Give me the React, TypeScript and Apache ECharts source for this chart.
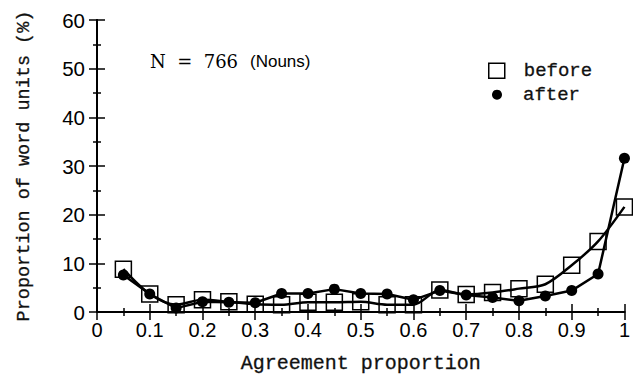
import React, { useEffect, useRef } from "react";
import * as echarts from "echarts";

// Agreement proportion bins (x) and percentage of word units in each bin
const agreementBins = [
  0.05, 0.1, 0.15, 0.2, 0.25, 0.3, 0.35, 0.4, 0.45, 0.5,
  0.55, 0.6, 0.65, 0.7, 0.75, 0.8, 0.85, 0.9, 0.95, 1.0,
];
const beforeValues = [
  8.8, 3.7, 1.5, 2.5, 2.1, 1.6, 1.5, 2.0, 2.0, 2.1,
  1.5, 1.5, 4.5, 3.6, 4.0, 4.8, 5.7, 9.6, 14.5, 21.6,
];
const afterValues = [
  7.6, 3.7, 0.8, 2.1, 2.0, 1.9, 3.8, 3.8, 4.7, 3.8,
  3.7, 2.5, 4.4, 3.5, 3.0, 2.3, 3.3, 4.4, 7.8, 31.6,
];

const MONO = "'Liberation Mono', monospace";
const SANS = "'Liberation Sans', Arial, sans-serif";
const SERIF = "'DejaVu Serif', serif";

// Slightly thickened typewriter-style text
const monoText = (size: number) => ({
  fontFamily: MONO,
  fontSize: size,
  color: "#111",
  textBorderColor: "#111",
  textBorderWidth: 0.3,
});

const frameAxis = {
  axisLine: { show: true, lineStyle: { color: "#000", width: 2 } },
  axisTick: { show: true, inside: true, length: 8, lineStyle: { color: "#000", width: 1.5 } },
  minorTick: { show: true, splitNumber: 2, length: 4, lineStyle: { color: "#000", width: 1.5 } },
  splitLine: { show: false },
};

export default function App() {
  const ref = useRef<HTMLDivElement>(null);

  useEffect(() => {
    if (!ref.current) return;
    const chart = echarts.init(ref.current, undefined, { renderer: "svg" });
    const beforeData = agreementBins.map((x, i) => [x, beforeValues[i]]);
    const afterData = agreementBins.map((x, i) => [x, afterValues[i]]);

    chart.setOption({
      animation: false,
      backgroundColor: "#fff",
      grid: { left: 97, right: 5, top: 20, bottom: 67, containLabel: false },
      xAxis: [
        {
          ...frameAxis,
          type: "value",
          position: "bottom",
          min: 0,
          max: 1,
          interval: 0.1,
          name: "Agreement proportion",
          nameLocation: "middle",
          nameGap: 41,
          nameTextStyle: monoText(20),
          axisLabel: { fontFamily: SANS, fontSize: 20, color: "#000", margin: 8 },
        },
        {
          ...frameAxis,
          type: "value",
          position: "top",
          min: 0,
          max: 1,
          interval: 0.1,
          axisLabel: { show: false },
        },
      ],
      yAxis: [
        {
          ...frameAxis,
          type: "value",
          position: "left",
          min: 0,
          max: 60,
          interval: 10,
          name: "Proportion of word units (%)",
          nameLocation: "middle",
          nameGap: 63,
          nameTextStyle: monoText(18.5),
          axisLabel: { fontFamily: SANS, fontSize: 20.5, color: "#000", margin: 12 },
        },
        {
          ...frameAxis,
          type: "value",
          position: "right",
          min: 0,
          max: 60,
          interval: 10,
          axisLabel: { show: false },
        },
      ],
      legend: [
        {
          left: 488,
          top: 61,
          padding: 0,
          orient: "vertical",
          itemWidth: 16,
          itemHeight: 15,
          data: [
            {
              name: "before",
              icon: "rect",
              itemStyle: { color: "#fff", borderColor: "#000", borderWidth: 1.5 },
            },
          ],
          textStyle: { ...monoText(19), padding: [0, 0, 0, 14] },
        },
        {
          left: 492,
          top: 85,
          padding: 0,
          orient: "vertical",
          itemWidth: 10,
          itemHeight: 10,
          data: [
            { name: "after", icon: "circle", itemStyle: { color: "#000", borderWidth: 0 } },
          ],
          textStyle: { ...monoText(19), padding: [0, 0, 0, 16] },
        },
      ],
      graphic: [
        {
          type: "text",
          left: 150,
          top: 52,
          style: { text: "N  =  766", font: `18px ${SERIF}`, fill: "#000" },
        },
        {
          type: "text",
          left: 250,
          top: 53,
          style: { text: "(Nouns)", font: `17px ${SANS}`, fill: "#000" },
        },
      ],
      series: [
        {
          name: "before",
          type: "line",
          data: beforeData,
          smooth: 0.3,
          clip: false,
          symbol: "rect",
          symbolSize: 16,
          lineStyle: { color: "#000", width: 2.5 },
          itemStyle: { color: "transparent", borderColor: "#000", borderWidth: 1.5 },
          z: 2,
        },
        {
          name: "after",
          type: "line",
          data: afterData,
          clip: false,
          symbol: "circle",
          symbolSize: 11,
          lineStyle: { color: "#000", width: 2.5 },
          itemStyle: { color: "#000", borderWidth: 0 },
          z: 3,
        },
      ],
    });

    return () => chart.dispose();
  }, []);

  return (
    <div
      ref={ref}
      style={{ position: "absolute", left: 0, top: 0, width: 633, height: 379 }}
    />
  );
}
